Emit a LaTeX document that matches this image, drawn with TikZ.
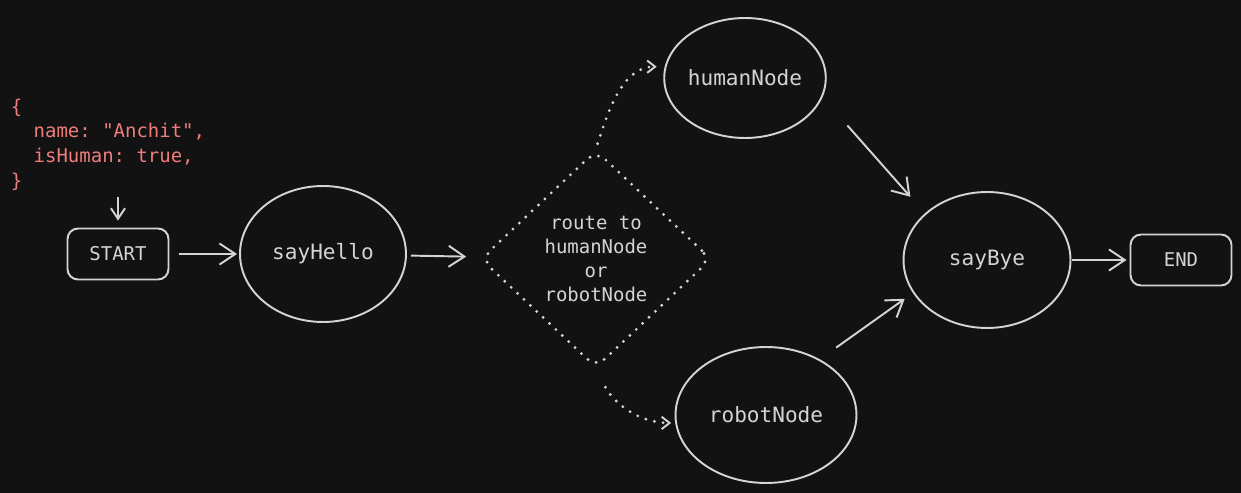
\documentclass[tikz,border=0pt]{standalone}
\usepackage{fontspec}
\setmonofont{DejaVu Sans Mono}
\usetikzlibrary{shapes.geometric,arrows.meta}
\definecolor{bg}{HTML}{121212}
\definecolor{ink}{HTML}{D4D4D4}
\definecolor{jsonred}{HTML}{F07C7C}

\begin{document}
\begin{tikzpicture}[
  x=0.02cm, y=-0.02cm,
  lbl/.style={text=ink, font=\ttfamily\fontsize{12}{14}\selectfont},
  term/.style={rectangle, rounded corners=6pt, draw=ink, line width=1.1pt,
    minimum width=2.02cm, minimum height=1.02cm, text=ink,
    font=\ttfamily\fontsize{10.8}{13}\selectfont},
  state/.style={ellipse, draw=ink, line width=1.1pt, inner sep=0pt, lbl},
  choice/.style={diamond, draw=ink, line width=1.8pt, line cap=round,
    dash pattern=on 0pt off 5pt, rounded corners=7pt,
    minimum width=4.62cm, minimum height=4.36cm, inner sep=0pt,
    align=center, text=ink, font=\ttfamily\fontsize{10.8}{13.6}\selectfont},
  json/.style={align=left, text=jsonred, inner sep=2pt,
    font=\ttfamily\fontsize{10.8}{14}\selectfont},
  arr/.style={draw=ink, line width=1.1pt,
    -{Straight Barb[length=9pt,width=12pt,line width=1.1pt]}},
  dotarr/.style={draw=ink, line width=1.8pt, line cap=round,
    dash pattern=on 0pt off 5pt,
    -{Straight Barb[length=4.5pt,width=7pt,line width=1.1pt]}},
]

% Background and frame
\useasboundingbox[fill=bg] (0,0) rectangle (1241,493);

% Input state
\node[json, anchor=north west] (input) at (7,95)
  {\{\\\phantom{xx}name: "Anchit",\\\phantom{xx}isHuman: true,\\\}};

% Nodes
\node[term] (start) at (118,254) {START};
\node[state, minimum width=3.32cm, minimum height=2.72cm] (hello) at (323,254) {sayHello};
\node[choice] (route) at (596,259) {route to\\humanNode\\or\\robotNode};
\node[state, minimum width=3.12cm, minimum height=2.4cm] (human) at (745,78) {humanNode};
\node[state, minimum width=3.62cm, minimum height=2.72cm] (robot) at (766,415) {robotNode};
\node[state, minimum width=3.34cm, minimum height=2.72cm] (bye) at (987,260) {sayBye};
\node[term] (end) at (1181,260) {END};

% Edges
\draw[arr, -{Straight Barb[length=6pt,width=8pt,line width=1.1pt]},
  shorten <=0.06cm, shorten >=0.14cm] (start |- input.south) -- (start.north);
\draw[arr, shorten <=0.2cm, shorten >=0.04cm] (start) -- (hello);
\draw[arr, shorten <=0.08cm, shorten >=0.3cm] (hello) -- (route);
\draw[dotarr, shorten <=0.1cm, shorten >=0.16cm]
  (route.north) to[out=72, in=180] (human.172);
\draw[dotarr, shorten <=0.4cm, shorten >=0.08cm]
  (route.south) to[out=-62, in=180] (robot.185);
\draw[arr, shorten <=0.75cm, shorten >=0.44cm] (human.-14) -- (bye.143);
\draw[arr, shorten <=0.4cm, shorten >=0.2cm] (robot.46) -- (bye.204);
\draw[arr, shorten <=0.02cm, shorten >=0.06cm] (bye) -- (end);

\end{tikzpicture}
\end{document}
